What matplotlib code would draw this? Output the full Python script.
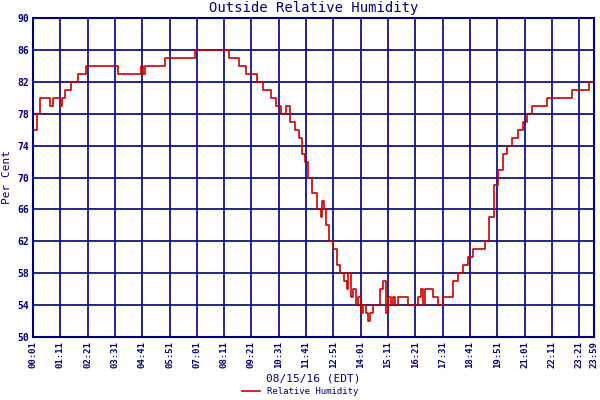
import matplotlib
matplotlib.use("Agg")
import matplotlib.pyplot as plt

minutes = [1, 11, 19, 44, 52, 70, 75, 83, 98, 116, 136, 218, 279, 283, 287, 333, 340, 417, 503, 529, 547,
           575, 590, 610, 623, 636, 649, 661, 672, 682, 690, 697, 707, 715, 728, 738, 742, 746, 753, 761,
           771, 779, 789, 799, 805, 809, 815, 822, 828, 835, 842, 848, 855, 860, 866, 873, 880, 890, 899,
           905, 911, 918, 924, 930, 937, 950, 962, 975, 988, 995, 1001, 1007, 1013, 1026, 1039, 1052, 1064,
           1077, 1090, 1103, 1115, 1128, 1141, 1159, 1171, 1182, 1192, 1205, 1217, 1230, 1243, 1256, 1268,
           1281, 1307, 1319, 1370, 1383, 1421, 1426, 1439]
humidity = [76, 78, 80, 79, 80, 79, 80, 81, 82, 83, 84, 83, 84, 83, 84, 84, 85, 86, 85, 84, 83,
            82, 81, 80, 79, 78, 79, 77, 76, 75, 73, 72, 70, 68, 66, 65, 67, 66, 64, 62,
            61, 59, 58, 57, 56, 58, 55, 56, 54, 55, 53, 54, 53, 52, 53, 54, 54, 56, 57,
            53, 55, 54, 55, 54, 55, 55, 54, 54, 55, 56, 54, 56, 56, 55, 54, 55, 55,
            57, 58, 59, 60, 61, 61, 62, 65, 69, 71, 73, 74, 75, 76, 77, 78,
            79, 79, 80, 80, 81, 81, 82, 82]
tick_labels = ["00:01", "01:11", "02:21", "03:31", "04:41", "05:51", "07:01", "08:11", "09:21",
               "10:31", "11:41", "12:51", "14:01", "15:11", "16:21", "17:31", "18:41", "19:51",
               "21:01", "22:11", "23:21", "23:59"]
y_ticks = [50, 54, 58, 62, 66, 70, 74, 78, 82, 86, 90]

def to_min(s):
    h, m = s.split(":")
    return int(h) * 60 + int(m)

navy = "#000080"
plt.rcParams['font.family'] = ['DejaVu Sans Mono']
fig = plt.figure(figsize=(6, 4), dpi=100)
ax = fig.add_axes([0.055, 0.1575, 0.935, 0.7975])
ax.step(minutes, humidity, where="post", color="#cc0000", lw=1.2, label="Relative Humidity")
ax.set_xlim(1, 1439)
ax.set_ylim(50, 90)
ax.set_yticks(y_ticks)
ax.set_yticklabels([str(v) for v in y_ticks], fontsize=7, color=navy, fontweight="bold")
ax.set_xticks([to_min(t) for t in tick_labels])
ax.set_xticklabels(tick_labels, rotation=90, fontsize=6.5, color=navy, fontweight="bold")
ax.grid(True, color=navy, lw=1.2)
ax.tick_params(length=0, pad=3)
for sp in ax.spines.values():
    sp.set_color(navy)
    sp.set_linewidth(1.5)
ax.set_title("Outside Relative Humidity", color=navy, fontsize=10, pad=4)
ax.set_ylabel("Per Cent", color=navy, fontsize=8)
ax.set_xlabel("08/15/16 (EDT)", color=navy, fontsize=8, labelpad=4)
fig.legend(loc="lower center", bbox_to_anchor=(0.5, -0.01), frameon=False, fontsize=6.5,
           labelcolor=navy, handlelength=2)
fig.savefig("out.png", dpi=100)
